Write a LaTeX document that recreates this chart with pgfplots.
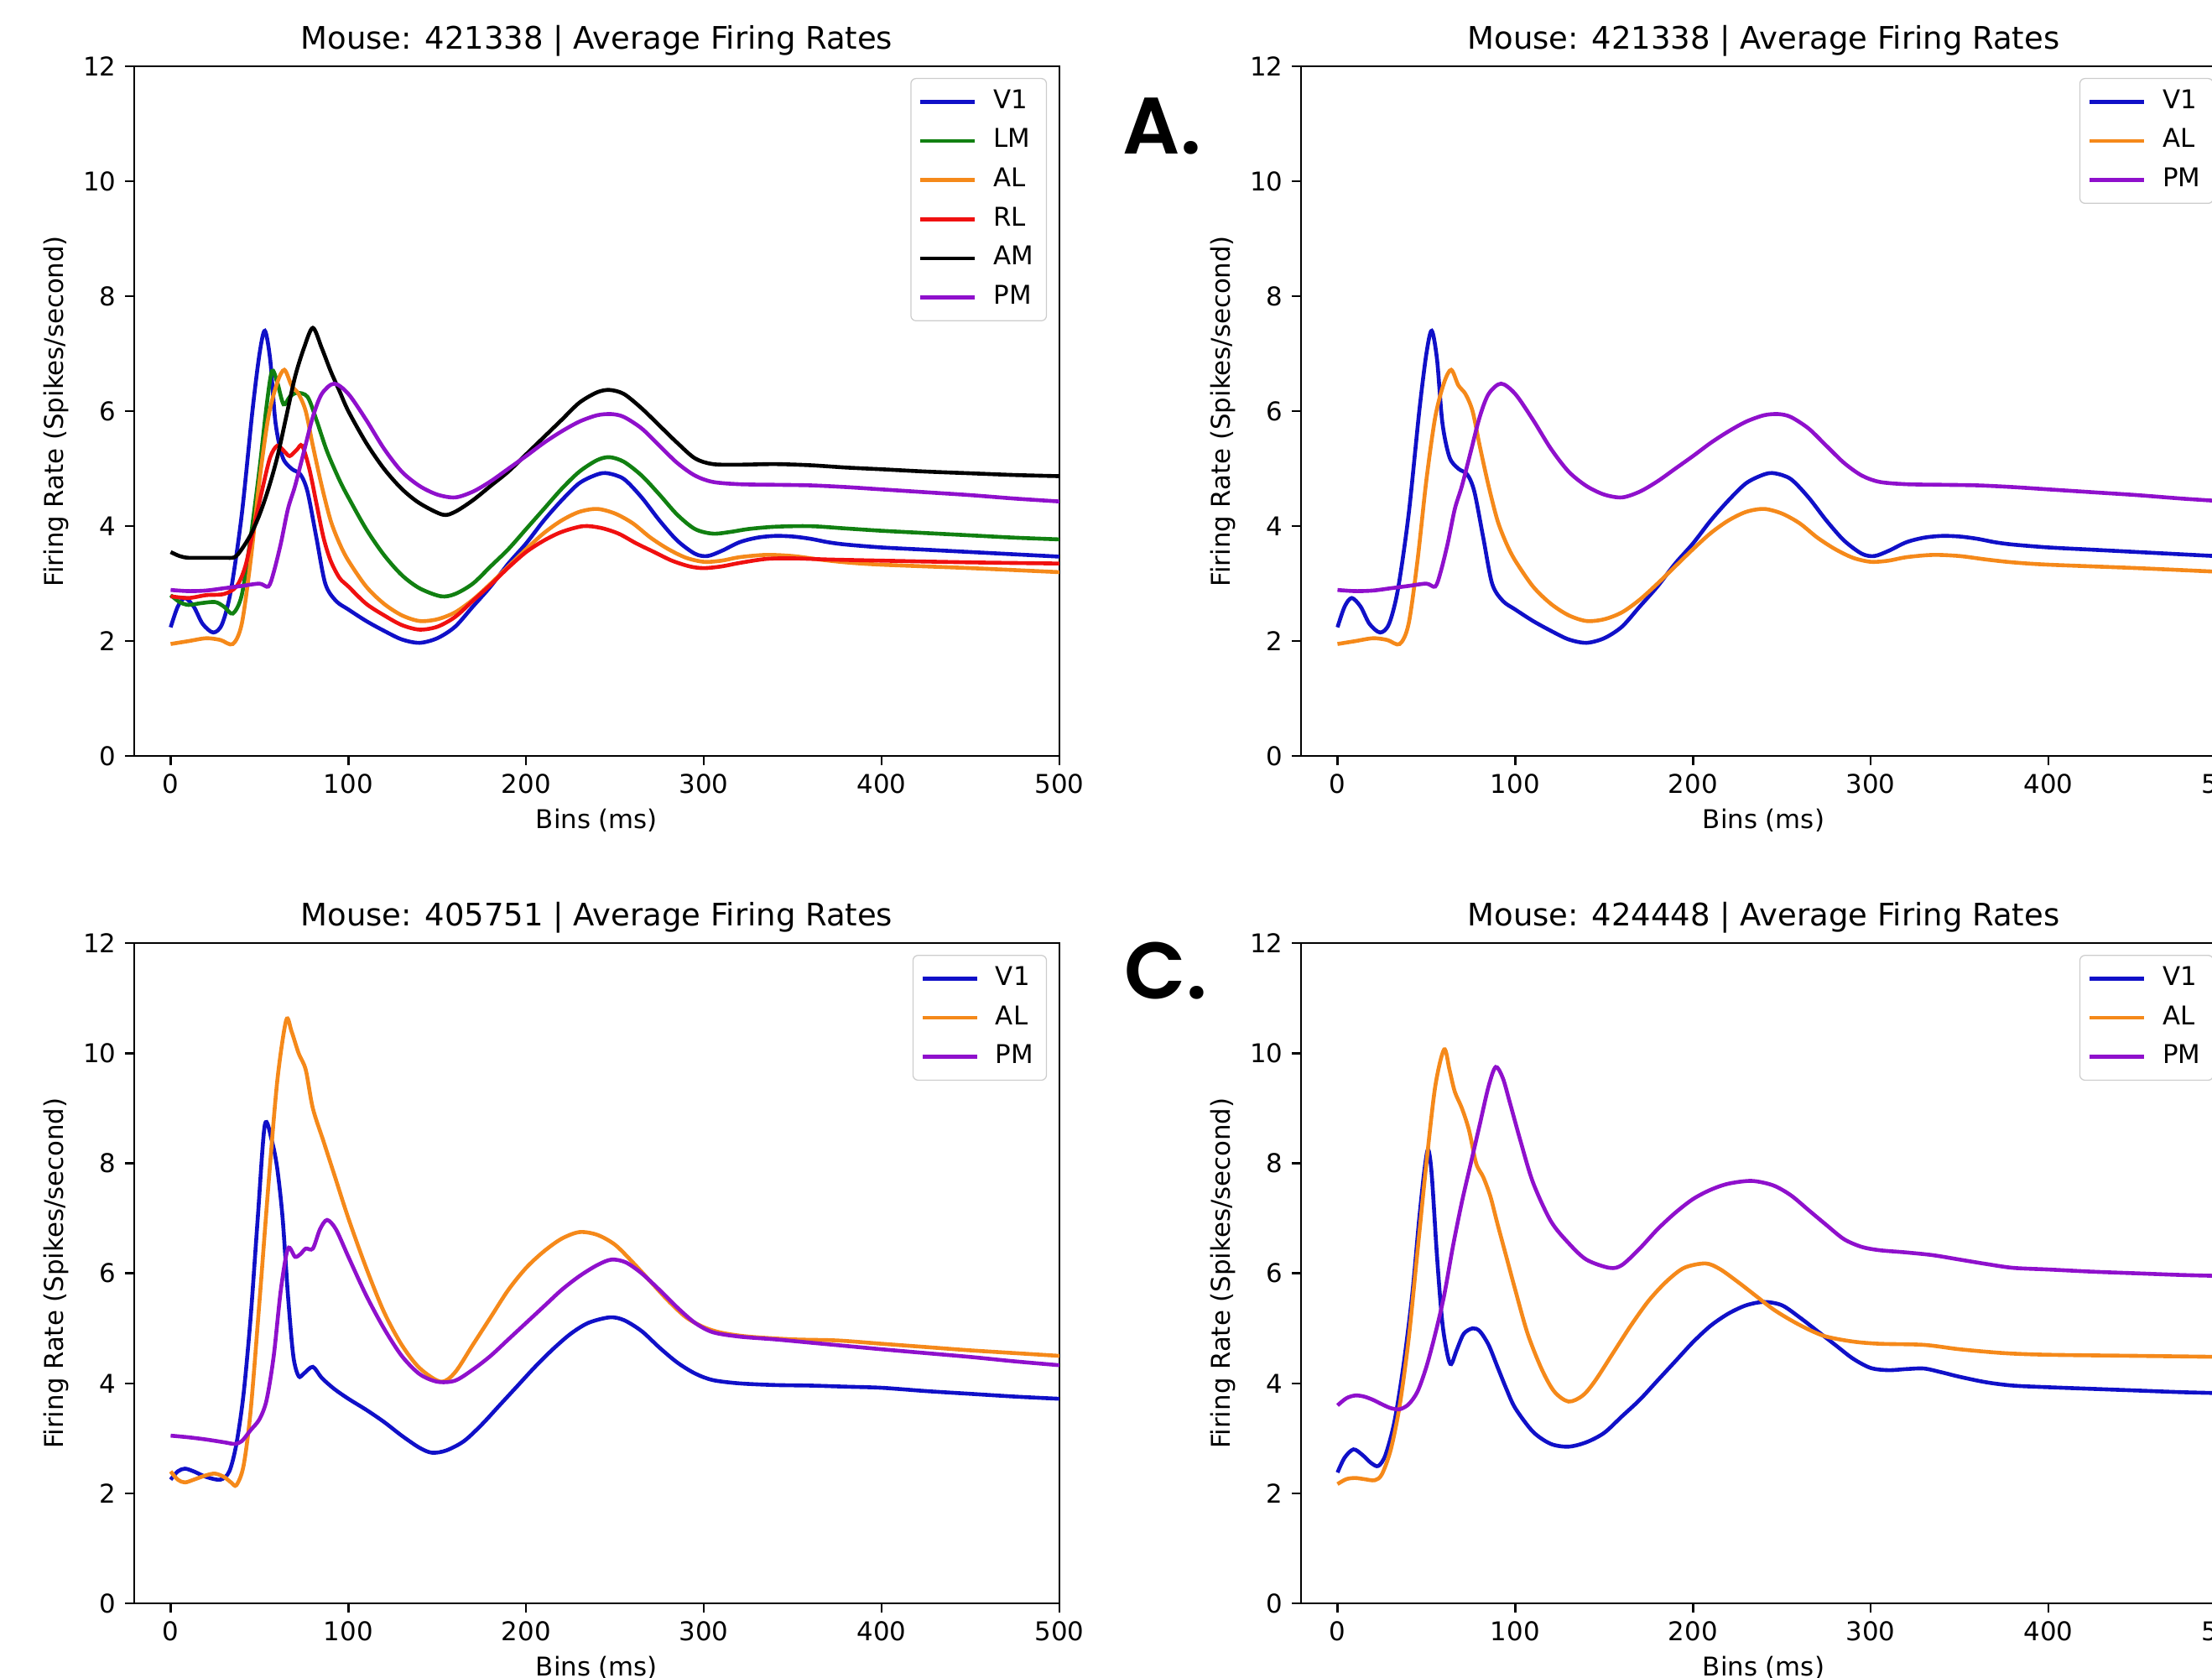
\documentclass[border=0pt]{standalone}
\usepackage{fontspec}
\setmainfont{DejaVu Sans}
\newfontfamily\panelfont{Poppins}[UprightFont=* SemiBold]
\usepackage{pgfplots}
\pgfplotsset{compat=1.18}

\definecolor{cV}{HTML}{1010C8}
\definecolor{cLM}{HTML}{118011}
\definecolor{cAL}{HTML}{F5891A}
\definecolor{cRL}{HTML}{F01010}
\definecolor{cAM}{HTML}{000000}
\definecolor{cPM}{HTML}{8F10CC}

\pgfplotsset{
  fr/.style={
    scale only axis, width=358.1pt,
    xmin=-20.5, xmax=500, ymin=0, ymax=12,
    xtick={0,100,...,500}, ytick={0,2,...,12},
    tick align=outside, xtick pos=bottom, ytick pos=left,
    major tick length=3.5pt,
    axis line style={line width=0.8pt},
    tick style={black, line width=0.8pt},
    tick label style={font=\fontsize{10}{12}\selectfont},
    /pgf/number format/assume math mode=true,
    xlabel={Bins (ms)}, ylabel={Firing Rate (Spikes/second)},
    label style={font=\fontsize{10}{12}\selectfont},
    xlabel style={at={(axis description cs:0.5,0)}, anchor=center, yshift=-25pt},
    ylabel style={at={(axis description cs:-0.0843,0.5)}, anchor=center},
    title style={font=\fontsize{12}{14}\selectfont, at={(axis description cs:0.5,1)}, anchor=center, yshift=4pt},
    legend style={at={(axis description cs:1,1)}, anchor=north east, xshift=-4.8pt, yshift=-4.5pt,
      draw=black!20, rounded corners=2pt, fill=white, fill opacity=0.8, text opacity=1,
      font=\fontsize{10}{12}\selectfont, inner xsep=3pt, inner ysep=2pt,
      row sep=1.15pt, column sep=4.5pt, cells={anchor=west},
      nodes={inner sep=2pt, text height=7.6pt, text depth=2.4pt}},
    legend image code/.code={\draw[#1, line width=1.5pt] (0pt,0pt) -- (21pt,0pt);},
    every axis plot/.append style={line width=1.5pt, smooth, tension=0.5, no markers},
  }
}

\begin{document}
\begin{tikzpicture}
\useasboundingbox (0,0) rectangle (856.2pt,649.1pt);
\clip (0,0) rectangle (856.2pt,649.1pt);

% top left: mouse 421338, all areas
\begin{axis}[fr, at={(51.95pt,356.5pt)}, anchor=south west, height=266.9pt,
  title={Mouse: 421338 | Average Firing Rates}]
\addplot[cV] coordinates {(0,2.24)(4,2.6)(8,2.75)(13,2.6)(18,2.3)(24,2.15)(29,2.3)(34,2.9)(40,4.2)(46,6.0)(50,7.0)(53,7.4)(56,6.9)(59,5.8)(63,5.2)(68,5.0)(73,4.9)(77,4.6)(82,3.8)(87,3.0)(93,2.7)(100,2.55)(110,2.35)(120,2.18)(130,2.03)(140,1.97)(150,2.05)(160,2.25)(170,2.6)(180,2.95)(190,3.35)(200,3.7)(210,4.1)(220,4.45)(230,4.75)(240,4.9)(246,4.92)(255,4.82)(265,4.5)(275,4.1)(285,3.75)(295,3.52)(302,3.48)(310,3.57)(320,3.72)(330,3.8)(340,3.83)(350,3.82)(360,3.78)(370,3.72)(380,3.68)(400,3.63)(425,3.59)(450,3.55)(475,3.51)(500,3.47)};
\addlegendentry{V1}
\addplot[cLM] coordinates {(0,2.8)(5,2.68)(10,2.63)(17,2.66)(25,2.68)(30,2.6)(35,2.48)(40,2.8)(45,3.8)(50,5.0)(54,6.1)(57,6.7)(60,6.5)(63.5,6.12)(67,6.25)(71,6.32)(77,6.25)(82,5.85)(88,5.3)(95,4.8)(100,4.5)(110,3.95)(120,3.5)(130,3.15)(140,2.92)(152,2.78)(160,2.82)(170,3.0)(180,3.3)(190,3.6)(200,3.95)(210,4.3)(220,4.65)(230,4.95)(240,5.15)(247,5.2)(255,5.12)(265,4.88)(275,4.55)(285,4.2)(295,3.95)(305,3.87)(315,3.9)(325,3.95)(340,3.99)(360,4.0)(380,3.96)(400,3.92)(425,3.88)(450,3.84)(475,3.8)(500,3.77)};
\addlegendentry{LM}
\addplot[cAL] coordinates {(0,1.95)(10,2.0)(20,2.05)(28,2.02)(35,1.95)(40,2.3)(45,3.4)(50,4.8)(55,5.9)(60,6.5)(64,6.72)(68,6.45)(72,6.3)(76,6.0)(80,5.4)(85,4.7)(90,4.1)(95,3.7)(100,3.4)(110,2.95)(120,2.65)(130,2.45)(140,2.35)(150,2.38)(160,2.5)(170,2.72)(180,3.0)(190,3.3)(200,3.6)(210,3.88)(220,4.1)(230,4.25)(240,4.3)(250,4.22)(260,4.05)(270,3.8)(280,3.6)(290,3.45)(300,3.38)(310,3.4)(320,3.46)(335,3.5)(350,3.48)(365,3.42)(380,3.37)(400,3.33)(450,3.27)(500,3.2)};
\addlegendentry{AL}
\addplot[cRL] coordinates {(0,2.78)(10,2.75)(20,2.8)(30,2.82)(37,2.95)(42,3.3)(47,4.0)(52,4.7)(56,5.2)(60,5.4)(64,5.3)(67,5.22)(71,5.33)(74,5.4)(78,5.0)(82,4.4)(86,3.8)(90,3.4)(95,3.1)(100,2.95)(110,2.65)(120,2.45)(130,2.28)(140,2.2)(150,2.25)(160,2.42)(170,2.7)(180,2.98)(190,3.28)(200,3.55)(210,3.75)(220,3.9)(232,4.0)(242,3.97)(252,3.87)(262,3.7)(272,3.55)(282,3.4)(292,3.3)(300,3.27)(310,3.3)(320,3.36)(335,3.43)(350,3.44)(370,3.42)(400,3.4)(450,3.37)(500,3.35)};
\addlegendentry{RL}
\addplot[cAM] coordinates {(0,3.55)(5,3.48)(10,3.45)(20,3.45)(30,3.45)(36,3.46)(40,3.6)(45,3.85)(50,4.2)(55,4.65)(60,5.2)(65,5.9)(70,6.6)(75,7.1)(80,7.45)(85,7.1)(90,6.7)(95,6.35)(100,6.0)(110,5.45)(120,5.0)(130,4.65)(140,4.4)(153,4.2)(160,4.25)(170,4.45)(180,4.7)(190,4.95)(200,5.25)(210,5.55)(220,5.85)(230,6.15)(240,6.33)(247,6.37)(255,6.3)(265,6.05)(275,5.75)(285,5.45)(295,5.18)(305,5.08)(320,5.07)(340,5.08)(360,5.06)(380,5.02)(400,4.99)(425,4.95)(450,4.92)(475,4.89)(500,4.87)};
\addlegendentry{AM}
\addplot[cPM] coordinates {(0,2.89)(10,2.87)(20,2.88)(30,2.92)(40,2.96)(50,3.0)(55,2.95)(58,3.2)(62,3.7)(66,4.3)(70,4.7)(75,5.3)(80,5.9)(85,6.3)(92,6.48)(100,6.3)(110,5.85)(120,5.35)(130,4.95)(140,4.7)(150,4.55)(160,4.5)(170,4.6)(180,4.78)(190,5.0)(200,5.22)(210,5.45)(220,5.65)(230,5.82)(240,5.93)(248,5.95)(255,5.9)(265,5.7)(275,5.4)(285,5.1)(295,4.88)(305,4.77)(320,4.73)(340,4.72)(360,4.71)(380,4.68)(400,4.64)(425,4.59)(450,4.54)(475,4.48)(500,4.43)};
\addlegendentry{PM}
\end{axis}

% top right: mouse 421338, V1 AL PM
\begin{axis}[fr, at={(503.6pt,356.5pt)}, anchor=south west, height=266.9pt,
  title={Mouse: 421338 | Average Firing Rates}]
\addplot[cV] coordinates {(0,2.24)(4,2.6)(8,2.75)(13,2.6)(18,2.3)(24,2.15)(29,2.3)(34,2.9)(40,4.2)(46,6.0)(50,7.0)(53,7.4)(56,6.9)(59,5.8)(63,5.2)(68,5.0)(73,4.9)(77,4.6)(82,3.8)(87,3.0)(93,2.7)(100,2.55)(110,2.35)(120,2.18)(130,2.03)(140,1.97)(150,2.05)(160,2.25)(170,2.6)(180,2.95)(190,3.35)(200,3.7)(210,4.1)(220,4.45)(230,4.75)(240,4.9)(246,4.92)(255,4.82)(265,4.5)(275,4.1)(285,3.75)(295,3.52)(302,3.48)(310,3.57)(320,3.72)(330,3.8)(340,3.83)(350,3.82)(360,3.78)(370,3.72)(380,3.68)(400,3.63)(425,3.59)(450,3.55)(475,3.51)(500,3.47)};
\addlegendentry{V1}
\addplot[cAL] coordinates {(0,1.95)(10,2.0)(20,2.05)(28,2.02)(35,1.95)(40,2.3)(45,3.4)(50,4.8)(55,5.9)(60,6.5)(64,6.72)(68,6.45)(72,6.3)(76,6.0)(80,5.4)(85,4.7)(90,4.1)(95,3.7)(100,3.4)(110,2.95)(120,2.65)(130,2.45)(140,2.35)(150,2.38)(160,2.5)(170,2.72)(180,3.0)(190,3.3)(200,3.6)(210,3.88)(220,4.1)(230,4.25)(240,4.3)(250,4.22)(260,4.05)(270,3.8)(280,3.6)(290,3.45)(300,3.38)(310,3.4)(320,3.46)(335,3.5)(350,3.48)(365,3.42)(380,3.37)(400,3.33)(450,3.27)(500,3.2)};
\addlegendentry{AL}
\addplot[cPM] coordinates {(0,2.89)(10,2.87)(20,2.88)(30,2.92)(40,2.96)(50,3.0)(55,2.95)(58,3.2)(62,3.7)(66,4.3)(70,4.7)(75,5.3)(80,5.9)(85,6.3)(92,6.48)(100,6.3)(110,5.85)(120,5.35)(130,4.95)(140,4.7)(150,4.55)(160,4.5)(170,4.6)(180,4.78)(190,5.0)(200,5.22)(210,5.45)(220,5.65)(230,5.82)(240,5.93)(248,5.95)(255,5.9)(265,5.7)(275,5.4)(285,5.1)(295,4.88)(305,4.77)(320,4.73)(340,4.72)(360,4.71)(380,4.68)(400,4.64)(425,4.59)(450,4.54)(475,4.48)(500,4.43)};
\addlegendentry{PM}
\end{axis}

% bottom left: mouse 405751
\begin{axis}[fr, at={(51.95pt,28.57pt)}, anchor=south west, height=255.5pt,
  title={Mouse: 405751 | Average Firing Rates}]
\addplot[cV] coordinates {(0,2.25)(4,2.4)(8,2.45)(13,2.4)(20,2.3)(28,2.25)(33,2.4)(37,2.9)(41,3.8)(45,5.2)(49,7.0)(53,8.7)(57,8.4)(60,7.9)(63,7.0)(66,5.6)(69,4.5)(72,4.13)(75,4.18)(80,4.3)(85,4.1)(92,3.9)(100,3.72)(110,3.52)(120,3.3)(130,3.05)(140,2.83)(147,2.74)(155,2.78)(165,2.95)(175,3.25)(185,3.6)(195,3.95)(205,4.3)(215,4.62)(225,4.9)(235,5.1)(247,5.2)(255,5.15)(265,4.95)(275,4.65)(285,4.38)(295,4.18)(305,4.06)(320,4.0)(340,3.97)(360,3.96)(380,3.94)(400,3.92)(425,3.86)(450,3.81)(475,3.76)(500,3.72)};
\addlegendentry{V1}
\addplot[cAL] coordinates {(0,2.4)(4,2.25)(8,2.2)(13,2.25)(20,2.33)(25,2.36)(30,2.3)(34,2.2)(37,2.15)(41,2.5)(45,3.5)(50,5.5)(55,7.6)(60,9.5)(65,10.6)(68,10.4)(72,10.0)(76,9.7)(80,9.0)(86,8.4)(92,7.8)(100,7.0)(110,6.1)(120,5.3)(130,4.7)(140,4.28)(152,4.03)(160,4.2)(170,4.7)(180,5.2)(190,5.7)(200,6.1)(210,6.4)(220,6.63)(230,6.75)(240,6.7)(250,6.52)(260,6.2)(270,5.85)(280,5.5)(290,5.2)(300,5.02)(310,4.92)(325,4.85)(350,4.8)(375,4.78)(400,4.72)(425,4.66)(450,4.6)(475,4.55)(500,4.5)};
\addlegendentry{AL}
\addplot[cPM] coordinates {(0,3.05)(10,3.02)(20,2.98)(30,2.93)(36,2.9)(40,2.95)(45,3.15)(50,3.35)(54,3.7)(58,4.5)(62,5.7)(66,6.45)(70,6.3)(73,6.35)(76,6.45)(80,6.45)(84,6.8)(88,6.97)(93,6.8)(100,6.3)(110,5.6)(120,5.0)(130,4.5)(140,4.17)(150,4.03)(160,4.05)(170,4.25)(180,4.5)(190,4.8)(200,5.1)(210,5.4)(220,5.7)(230,5.95)(240,6.15)(248,6.25)(256,6.2)(265,6.0)(275,5.7)(285,5.38)(295,5.1)(305,4.93)(320,4.85)(340,4.8)(360,4.74)(380,4.68)(400,4.62)(425,4.55)(450,4.48)(475,4.4)(500,4.33)};
\addlegendentry{PM}
\end{axis}

% bottom right: mouse 424448
\begin{axis}[fr, at={(503.6pt,28.57pt)}, anchor=south west, height=255.5pt,
  title={Mouse: 424448 | Average Firing Rates}]
\addplot[cV] coordinates {(0,2.38)(4,2.65)(9,2.8)(14,2.7)(19,2.55)(23,2.5)(27,2.7)(32,3.3)(37,4.3)(42,5.6)(46,7.0)(49,7.9)(51,8.25)(53,7.8)(56,6.3)(59,5.1)(62,4.5)(64,4.35)(67,4.6)(71,4.9)(76,5.0)(80,4.95)(85,4.7)(90,4.3)(95,3.9)(100,3.55)(110,3.12)(120,2.9)(130,2.85)(140,2.93)(150,3.1)(160,3.4)(170,3.7)(180,4.05)(190,4.4)(200,4.75)(210,5.05)(220,5.27)(230,5.42)(240,5.48)(250,5.42)(260,5.2)(270,4.95)(280,4.7)(290,4.45)(300,4.28)(310,4.24)(320,4.26)(330,4.27)(340,4.2)(350,4.12)(365,4.02)(380,3.96)(400,3.93)(425,3.9)(450,3.87)(475,3.84)(500,3.82)};
\addlegendentry{V1}
\addplot[cAL] coordinates {(0,2.17)(5,2.26)(10,2.28)(15,2.26)(21,2.24)(25,2.35)(30,2.8)(35,3.6)(40,4.8)(45,6.4)(50,8.0)(55,9.4)(60,10.07)(63,9.7)(66,9.3)(70,9.0)(74,8.6)(78,8.0)(82,7.75)(86,7.4)(90,6.9)(95,6.3)(100,5.7)(107,4.9)(115,4.25)(122,3.85)(130,3.67)(138,3.78)(145,4.05)(155,4.55)(165,5.05)(175,5.5)(185,5.85)(195,6.1)(207,6.18)(215,6.08)(225,5.85)(235,5.6)(245,5.35)(255,5.15)(265,4.98)(275,4.85)(290,4.76)(305,4.72)(330,4.7)(350,4.62)(375,4.55)(400,4.52)(450,4.5)(500,4.48)};
\addlegendentry{AL}
\addplot[cPM] coordinates {(0,3.6)(5,3.73)(10,3.78)(15,3.76)(20,3.7)(25,3.62)(30,3.55)(35,3.53)(40,3.62)(45,3.85)(50,4.3)(55,4.9)(60,5.6)(65,6.5)(70,7.3)(75,8.0)(80,8.7)(85,9.4)(89,9.75)(93,9.55)(97,9.1)(103,8.4)(110,7.65)(120,6.95)(130,6.55)(140,6.25)(153,6.1)(160,6.15)(170,6.45)(180,6.8)(190,7.1)(200,7.35)(210,7.52)(220,7.63)(233,7.68)(245,7.6)(255,7.42)(265,7.15)(275,6.88)(285,6.62)(295,6.48)(305,6.42)(320,6.38)(335,6.33)(350,6.25)(365,6.17)(380,6.1)(400,6.07)(425,6.03)(450,6.0)(475,5.97)(500,5.95)};
\addlegendentry{PM}
\end{axis}

% panel letters
\node[anchor=base west, inner sep=0pt, font=\panelfont\fontsize{31}{31}\selectfont] at (434.5pt,589.6pt) {A.};
\node[anchor=base west, inner sep=0pt, font=\panelfont\fontsize{31}{31}\selectfont] at (435.1pt,262.4pt) {C.};
\end{tikzpicture}
\end{document}
